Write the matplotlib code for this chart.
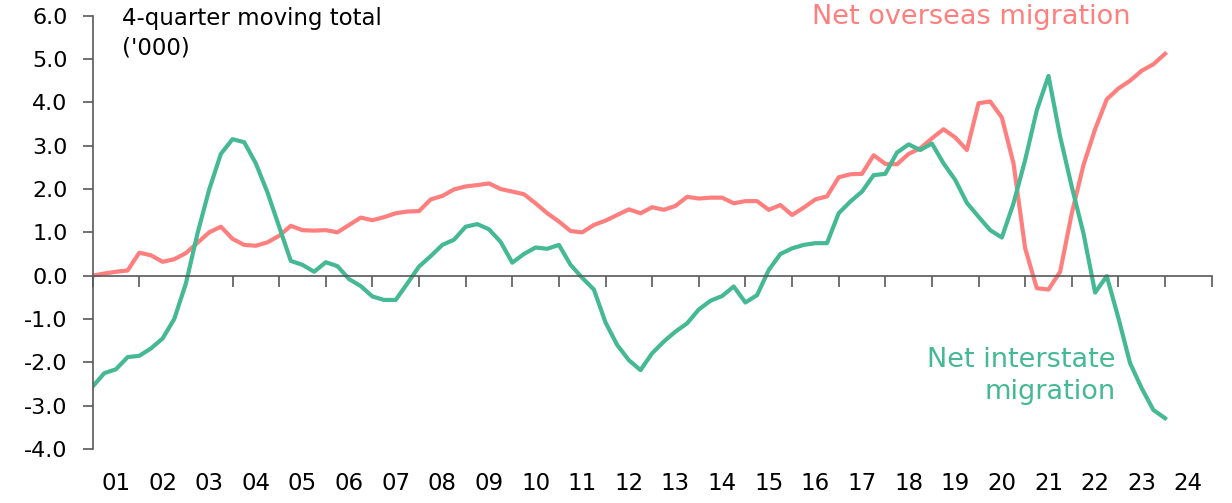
import matplotlib.pyplot as plt
from matplotlib.transforms import blended_transform_factory

# Квартальные данные, 4-квартальная скользящая сумма ('000)
overseas = [0.00, 0.05, 0.09, 0.12, 0.53, 0.47, 0.32, 0.38, 0.52, 0.76,
            1.00, 1.13, 0.85, 0.71, 0.69, 0.77, 0.92, 1.15, 1.05, 1.04,
            1.05, 1.00, 1.17, 1.34, 1.28, 1.35, 1.44, 1.48, 1.49, 1.76,
            1.84, 1.99, 2.06, 2.09, 2.13, 2.00, 1.94, 1.88, 1.67, 1.44,
            1.25, 1.03, 1.00, 1.17, 1.27, 1.40, 1.53, 1.44, 1.58, 1.52,
            1.61, 1.82, 1.78, 1.80, 1.80, 1.67, 1.72, 1.72, 1.52, 1.63,
            1.40, 1.57, 1.76, 1.83, 2.27, 2.34, 2.35, 2.78, 2.58, 2.57,
            2.81, 2.94, 3.17, 3.38, 3.19, 2.90, 3.98, 4.02, 3.65, 2.59,
            0.63, -0.29, -0.32, 0.09, 1.44, 2.55, 3.38, 4.07, 4.32, 4.50,
            4.73, 4.88, 5.12]

interstate = [-2.56, -2.25, -2.16, -1.88, -1.85, -1.68, -1.45, -1.00, -0.18, 0.98,
              1.99, 2.81, 3.15, 3.08, 2.59, 1.92, 1.13, 0.34, 0.25, 0.09,
              0.31, 0.22, -0.08, -0.24, -0.48, -0.56, -0.56, -0.18, 0.21, 0.45,
              0.71, 0.83, 1.13, 1.19, 1.07, 0.78, 0.30, 0.50, 0.65, 0.62,
              0.71, 0.25, -0.05, -0.32, -1.08, -1.60, -1.95, -2.18, -1.79, -1.52,
              -1.29, -1.10, -0.78, -0.58, -0.47, -0.25, -0.62, -0.45, 0.13, 0.50,
              0.63, 0.71, 0.75, 0.75, 1.44, 1.71, 1.94, 2.32, 2.35, 2.84,
              3.03, 2.90, 3.05, 2.59, 2.21, 1.68, 1.36, 1.05, 0.88, 1.67,
              2.67, 3.82, 4.61, 3.21, 2.05, 0.98, -0.39, -0.01, -0.98, -2.02,
              -2.60, -3.10, -3.29]

year_labels = [f'{y:02d}' for y in range(1, 25)]

PINK = '#FF7F7F'
GREEN = '#44B993'

plt.rcParams['font.family'] = ['DejaVu Sans']

fig = plt.figure(figsize=(12.32, 5.03), dpi=100)
ax = fig.add_axes([0.0752, 0.1074, 0.9083, 0.8614])

x = [i / 4 for i in range(len(overseas))]
ax.plot(x, overseas, color=PINK, linewidth=3, solid_joinstyle='round')
ax.plot(x, interstate, color=GREEN, linewidth=3, solid_joinstyle='round')

ax.set_xlim(0, 24)
ax.set_ylim(-4, 6)
ax.set_yticks(range(-4, 7))
ax.set_yticklabels([f'{v:.1f}' for v in range(-4, 7)])

# оси
for s in ['top', 'right']:
    ax.spines[s].set_visible(False)
ax.spines['bottom'].set_position(('data', 0))
ax.spines['left'].set_color('#595959')
ax.spines['bottom'].set_color('#595959')
ax.spines['left'].set_linewidth(1.2)
ax.spines['bottom'].set_linewidth(1.2)

ax.set_xticks(range(0, 25))
ax.set_xticklabels([])
ax.tick_params(axis='x', direction='out', length=8, width=1.2, color='#595959')
ax.tick_params(axis='y', direction='out', length=7, width=1.2, color='#595959',
               labelsize=16, pad=11)

# подписи лет между делениями
trans = blended_transform_factory(ax.transData, ax.transAxes)
for k, lab in enumerate(year_labels):
    ax.text(k + 0.5, -0.079, lab, transform=trans, ha='center', va='center',
            fontsize=16.5)

ax.text(0.026, 1.02, "4-quarter moving total\n('000)", transform=ax.transAxes,
        ha='left', va='top', fontsize=16.5, linespacing=1.35)
ax.text(18.84, 5.97, 'Net overseas migration', ha='center', va='center',
        fontsize=19.5, color=PINK)
ax.text(21.93, -2.31, 'Net interstate\nmigration', ha='right', va='center',
        fontsize=19.5, color=GREEN, linespacing=1.3)

fig.savefig('out.png', dpi=100)
